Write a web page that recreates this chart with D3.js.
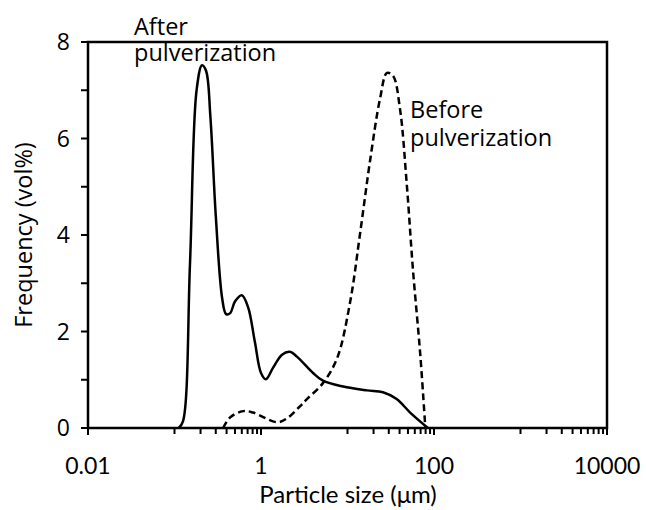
<!DOCTYPE html>
<html>
<head>
<meta charset="utf-8">
<script src="https://cdn.jsdelivr.net/npm/d3@7"></script>
<style>
  body { margin: 0; background: #fff; }
  svg { display: block; }
</style>
</head>
<body>
<svg width="646" height="510"></svg>
<script>
// particle size (um) and frequency (vol%)
var afterSize = [0.112, 0.125, 0.151, 0.18, 0.208, 0.232, 0.26, 0.30, 0.355, 0.395, 0.44, 0.50, 0.60, 0.71, 0.85, 1.0, 1.14, 1.38, 1.75, 2.16, 2.6, 4.0, 5.2, 8.9, 16.8, 25.7, 37, 53, 85];
var afterFreq = [0, 0.13, 3.4, 7.0, 7.52, 7.4, 6.45, 4.4, 2.7, 2.36, 2.38, 2.62, 2.75, 2.5, 1.78, 1.14, 1.01, 1.25, 1.52, 1.58, 1.48, 1.14, 0.98, 0.86, 0.78, 0.74, 0.6, 0.32, 0];

var beforeSize = [0.365, 0.44, 0.62, 0.81, 1.53, 2.0, 2.82, 3.4, 5.2, 7.6, 10.7, 13.9, 18.3, 23.8, 28.6, 33.6, 40.4, 48.4, 57, 69.4, 79.4];
var beforeFreq = [0, 0.22, 0.35, 0.32, 0.12, 0.2, 0.45, 0.6, 0.93, 1.45, 2.6, 4.0, 5.56, 6.83, 7.36, 7.3, 6.62, 5.06, 3.3, 1.52, 0];

var xMajor = [0.01, 1, 100, 10000];
var xLabels = ["0.01", "1", "100", "10000"];
var yTicks = [0, 1, 2, 3, 4, 5, 6, 7, 8];
var yLabels = [0, 2, 4, 6, 8];

var svg = d3.select("svg");
var mLeft = 88, mRight = 607, mTop = 42, mBottom = 428;

var x = d3.scaleLog().domain([0.01, 10000]).range([mLeft, mRight]);
var y = d3.scaleLinear().domain([0, 8]).range([mBottom, mTop]);

// minor ticks: 0.1..0.9, 10..90, 1000..9000
var minor = [];
[0.1, 10, 1000].forEach(function(b) {
  for (var k = 1; k <= 9; k++) minor.push(b * k);
});

var g = svg.append("g");

g.selectAll(".minor").data(minor).enter().append("line")
  .attr("x1", d => x(d)).attr("x2", d => x(d))
  .attr("y1", mBottom).attr("y2", mBottom + 6)
  .attr("stroke", "#000").attr("stroke-width", 2);

g.selectAll(".major").data(xMajor).enter().append("line")
  .attr("x1", d => x(d)).attr("x2", d => x(d))
  .attr("y1", mBottom).attr("y2", mBottom + 7)
  .attr("stroke", "#000").attr("stroke-width", 2);

g.selectAll(".xl").data(xMajor).enter().append("text")
  .attr("x", d => x(d)).attr("y", mBottom + 46)
  .attr("text-anchor", "middle")
  .attr("font-family", "Lato").attr("font-size", 23)
  .text((d, i) => xLabels[i]);

g.selectAll(".yt").data(yTicks).enter().append("line")
  .attr("x1", mLeft - 7).attr("x2", mLeft)
  .attr("y1", d => y(d)).attr("y2", d => y(d))
  .attr("stroke", "#000").attr("stroke-width", 2);

g.selectAll(".yl").data(yLabels).enter().append("text")
  .attr("x", mLeft - 18).attr("y", d => y(d) + 8)
  .attr("text-anchor", "end")
  .attr("font-family", "Open Sans").attr("font-size", 23)
  .text(d => d);

// frame
svg.append("rect")
  .attr("x", mLeft).attr("y", mTop)
  .attr("width", mRight - mLeft).attr("height", mBottom - mTop)
  .attr("fill", "none").attr("stroke", "#000").attr("stroke-width", 2.5);

var line = d3.line()
  .x(d => x(d[0])).y(d => y(d[1]))
  .curve(d3.curveCatmullRom.alpha(0.5));

svg.append("path")
  .datum(d3.zip(beforeSize, beforeFreq))
  .attr("d", line)
  .attr("fill", "none").attr("stroke", "#000")
  .attr("stroke-width", 2.5).attr("stroke-dasharray", "7,4");

svg.append("path")
  .datum(d3.zip(afterSize, afterFreq))
  .attr("d", line)
  .attr("fill", "none").attr("stroke", "#000")
  .attr("stroke-width", 2.5);

// annotations
var ann = svg.append("g").attr("font-family", "Open Sans").attr("font-size", 23.5);
ann.append("text").attr("x", 134).attr("y", 35).text("After");
ann.append("text").attr("x", 134).attr("y", 61).text("pulverization");
ann.append("text").attr("x", 410).attr("y", 118).text("Before");
ann.append("text").attr("x", 410).attr("y", 146).text("pulverization");

// axis titles
svg.append("text")
  .attr("x", 348).attr("y", 503)
  .attr("text-anchor", "middle")
  .attr("font-family", "Lato").attr("font-size", 24)
  .text("Particle size (μm)");

svg.append("text")
  .attr("transform", "translate(32," + ((mTop + mBottom) / 2) + ") rotate(-90)")
  .attr("text-anchor", "middle")
  .attr("font-family", "Open Sans").attr("font-size", 23.5)
  .text("Frequency (vol%)");
</script>
</body>
</html>
